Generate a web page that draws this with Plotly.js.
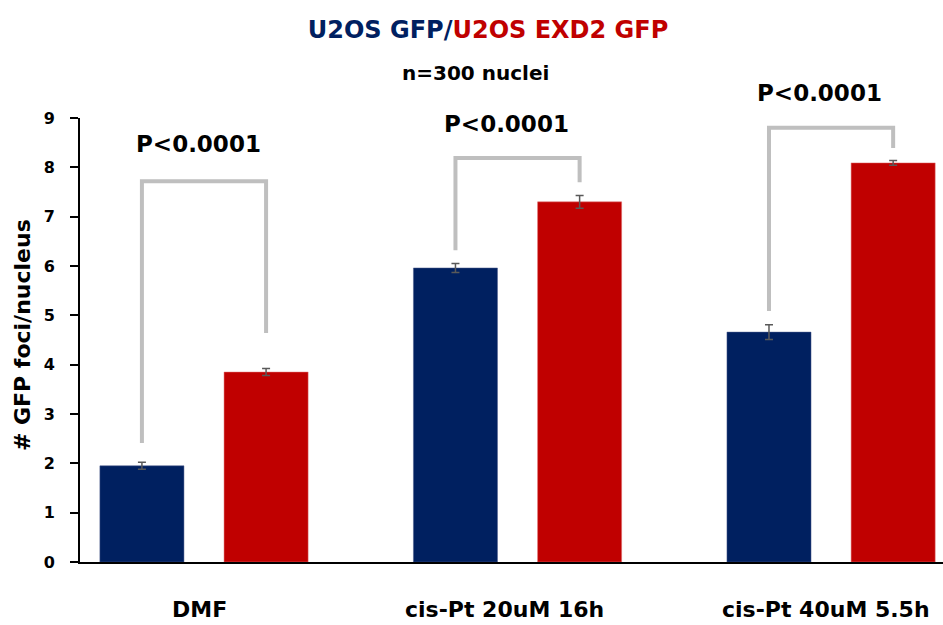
<!DOCTYPE html>
<html>
<head>
<meta charset="utf-8">
<script src="https://cdn.plot.ly/plotly-3.0.1.min.js"></script>
<style>html,body{margin:0;padding:0;background:#fff}#chart{width:943px;height:625px}</style>
</head>
<body>
<div id="chart"></div>
<script>
// ---- data ----
const categories = ['DMF', 'cis-Pt 20uM 16h', 'cis-Pt 40uM 5.5h'];
const seriesNames = ['U2OS GFP', 'U2OS EXD2 GFP'];
const gfpValues = [1.95, 5.96, 4.66];
const gfpErrors = [0.07, 0.09, 0.15];
const exd2Values = [3.85, 7.30, 8.09];
const exd2Errors = [0.07, 0.13, 0.05];
const pLabels = ['P<0.0001', 'P<0.0001', 'P<0.0001'];
const bracketLeftY = [2.41, 6.32, 5.09];
const bracketTopY = [7.72, 8.19, 8.80];
const bracketRightY = [4.64, 7.70, 8.39];
const pLabelY = [8.48, 8.88, 9.51];
const yTickValues = [0, 1, 2, 3, 4, 5, 6, 7, 8, 9];

// ---- styling ----
const FONT = 'DejaVu Sans';
const BLUE = '#002060';
const RED = '#c00000';
const BRACKET = '#bfbfbf';
const Y_MAX = 9;
const bargap = 0.208;
const bargroupgap = 0.323;
const halfSlot = (1 - bargap) / 4; // offset of each bar centre from group centre
const labelShiftPx = [-5, -13, -5];
const pShiftPx = [-6, -11, -12];

const xIdx = categories.map((_, i) => i);

const traces = [
  {
    type: 'bar', name: seriesNames[0], x: xIdx, y: gfpValues,
    marker: {color: BLUE, line: {color: '#4a5a8a', width: 0.5}},
    error_y: {type: 'data', array: gfpErrors, visible: true, color: '#595959', thickness: 1.5, width: 4}
  },
  {
    type: 'bar', name: seriesNames[1], x: xIdx, y: exd2Values,
    marker: {color: RED, line: {color: '#e07070', width: 0.5}},
    error_y: {type: 'data', array: exd2Errors, visible: true, color: '#595959', thickness: 1.5, width: 4}
  }
];

xIdx.forEach(i => {
  traces.push({
    type: 'scatter', mode: 'lines',
    x: [i - halfSlot, i - halfSlot, i + halfSlot, i + halfSlot],
    y: [bracketLeftY[i], bracketTopY[i], bracketTopY[i], bracketRightY[i]],
    line: {color: BRACKET, width: 4},
    hoverinfo: 'skip', showlegend: false, cliponaxis: false
  });
});

const annotations = [];
xIdx.forEach(i => {
  annotations.push({
    x: i, xref: 'x', y: pLabelY[i] / Y_MAX, yref: 'paper', xshift: pShiftPx[i],
    text: pLabels[i], showarrow: false, xanchor: 'center', yanchor: 'middle',
    font: {family: FONT, size: 23, color: '#000', weight: 700}
  });
  annotations.push({
    x: i, xref: 'x', y: -0.108, yref: 'paper', xshift: labelShiftPx[i],
    text: categories[i], showarrow: false, xanchor: 'center', yanchor: 'middle',
    font: {family: FONT, size: 22, color: '#000', weight: 700}
  });
});
annotations.push({
  x: (475 - 80) / 863, xref: 'paper', y: 1.101, yref: 'paper',
  text: 'n=300 nuclei', showarrow: false, xanchor: 'center', yanchor: 'middle',
  font: {family: FONT, size: 20, color: '#000', weight: 700}
});
annotations.push({
  x: -0.0672, xref: 'paper', y: 0.511, yref: 'paper', textangle: -90,
  text: '# GFP foci/nucleus', showarrow: false, xanchor: 'center', yanchor: 'middle',
  font: {family: FONT, size: 22, color: '#000', weight: 700}
});

const layout = {
  width: 943, height: 625,
  margin: {l: 80, r: 0, t: 118, b: 63, pad: 0},
  paper_bgcolor: '#fff', plot_bgcolor: '#fff',
  showlegend: false, hovermode: false,
  barmode: 'group', bargap: bargap, bargroupgap: bargroupgap,
  title: {
    text: '<span style="color:' + BLUE + '">' + seriesNames[0] + '/</span><span style="color:' + RED + '">' + seriesNames[1] + '</span>',
    x: 488 / 943, xref: 'container', xanchor: 'center',
    y: 1 - 30 / 625, yref: 'container', yanchor: 'middle',
    font: {family: FONT, size: 24, weight: 700}
  },
  xaxis: {
    type: 'linear', range: [-0.3955, 2.357], showgrid: false, zeroline: false,
    showline: true, linecolor: '#000', linewidth: 2, ticks: '', showticklabels: false, fixedrange: true
  },
  yaxis: {
    range: [0, Y_MAX], tickvals: yTickValues, ticktext: yTickValues.map(String),
    showgrid: false, zeroline: false, showline: true, linecolor: '#000', linewidth: 2,
    ticks: 'outside', ticklen: 8, tickwidth: 2, tickcolor: '#000', ticklabelstandoff: 12,
    tickfont: {family: FONT, size: 16, color: '#000', weight: 700}, fixedrange: true
  },
  annotations: annotations
};

Plotly.newPlot('chart', traces, layout, {displayModeBar: false, staticPlot: true});
</script>
</body>
</html>
